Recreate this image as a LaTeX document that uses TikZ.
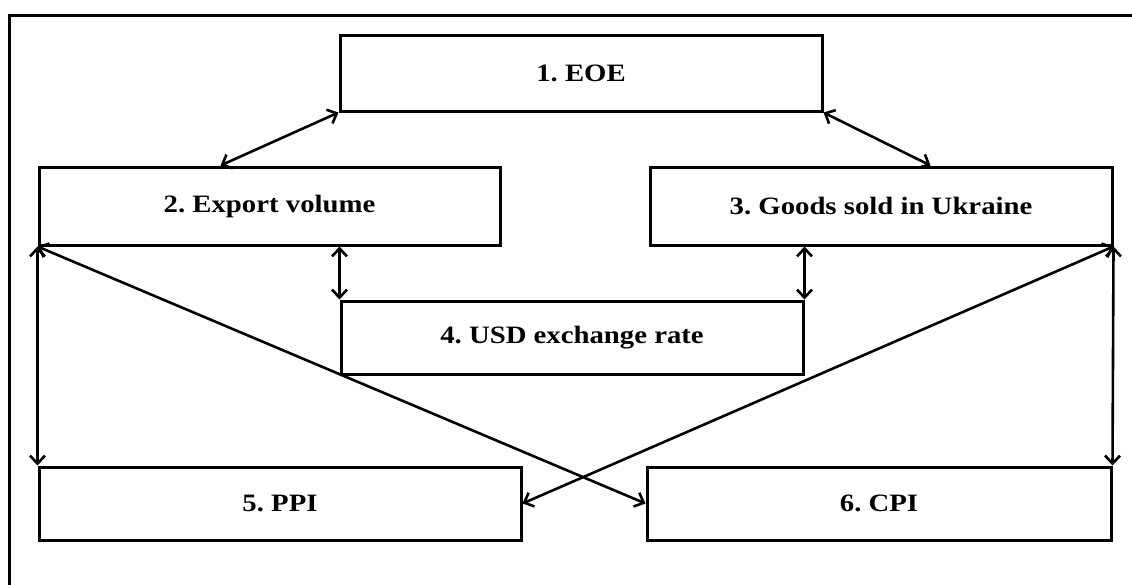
\documentclass[tikz,border=0pt]{standalone}
\usepackage{fontspec}
\setmainfont{Liberation Serif}[FakeStretch=1.15]
\usetikzlibrary{arrows.meta}

\begin{document}
\frenchspacing
\begin{tikzpicture}[x=1pt, y=-1pt,
    every node/.style = {draw, line width=3pt, inner sep=0pt,
    font=\fontsize{25}{29}\selectfont\bfseries},
    wide/.style = {minimum width=482pt, minimum height=#1},
    narrow/.style = {minimum width=462pt, minimum height=#1},
    link/.style = {line width=2.6pt,
    {Straight Barb[length=8pt,width=15pt]}-{Straight Barb[length=8pt,width=15pt]}}
    ]
    \useasboundingbox (0,0) rectangle (1132,584);
    \clip (0,0) rectangle (1132,584);
    \draw[line width=3pt] (9,15) rectangle (1160,610);

    \node[wide=76pt] (eoe) at (581,73) {1. EOE};
    \node[narrow=78pt, minimum width=461pt] (export) at (269.5,206) {2. Export volume};
    \node[narrow=78pt] (goods) at (881,206) {3. Goods sold in Ukraine};
    \node[narrow=73pt] (usd) at (572,337.5) {4. USD exchange rate};
    \node[wide=73pt] (ppi) at (280,503.5) {5. PPI};
    \node[narrow=73pt, minimum width=464pt] (cpi) at (879,503.5) {6. CPI};

    \draw[link] (eoe.south west) -- ([xshift=183pt]export.north west);
    \draw[link] (eoe.south east) -- ([xshift=282pt]goods.north west);
    \draw[link] (export.south -| usd.north west) -- (usd.north west);
    \draw[link] (goods.south -| usd.north east) -- (usd.north east);
    \draw[link] (export.south west) -- (ppi.north west);
    \draw[link] (export.south west) -- (cpi.west);
    \draw[link] (goods.south east) -- (ppi.east);
    \draw[link] (goods.south east) -- (cpi.north east);
\end{tikzpicture}
\end{document}
